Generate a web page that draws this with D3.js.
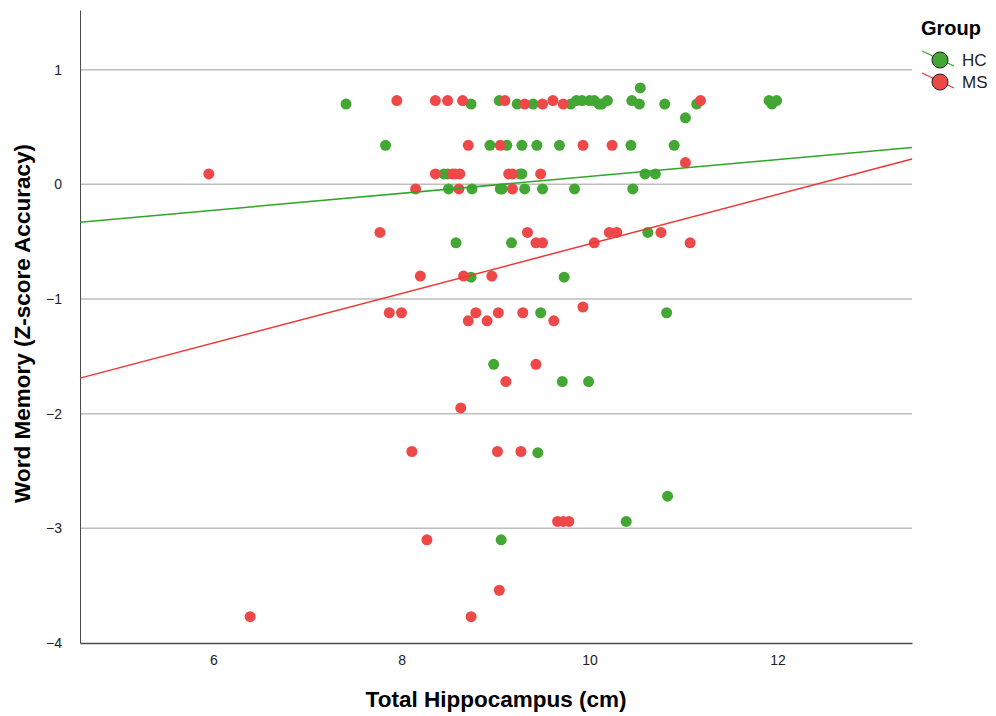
<!DOCTYPE html>
<html>
<head>
<meta charset="utf-8">
<script src="https://cdn.jsdelivr.net/npm/d3@7"></script>
<style>
  body { margin: 0; background: #fff; }
  text { font-family: "Liberation Sans", Arial, sans-serif; }
</style>
</head>
<body>
<div id="graph"></div>
<script>
// values
var hcX = [7.41, 8.74, 9.04, 9.23, 9.40, 9.80, 9.86, 9.92, 10.00, 10.05, 10.10, 10.13, 10.19,
           10.45, 10.54, 10.53, 10.80, 11.14, 11.02, 11.91, 11.94, 11.99,
           7.83, 8.94, 9.12, 9.28, 9.44, 9.68, 10.44, 10.90,
           8.45, 8.49, 9.26, 9.28, 10.59, 10.70,
           8.50, 8.75, 9.05, 9.07, 9.31, 9.50, 9.84, 10.46,
           8.58, 9.17, 10.62, 8.74, 9.73, 9.48, 10.82,
           8.98, 9.71, 9.99, 9.45, 10.83, 10.39, 9.06];
var hcY = [0.70, 0.70, 0.73, 0.70, 0.70, 0.70, 0.73, 0.73, 0.73, 0.73, 0.70, 0.70, 0.73,
           0.73, 0.84, 0.70, 0.70, 0.70, 0.58, 0.73, 0.70, 0.73,
           0.34, 0.34, 0.34, 0.34, 0.34, 0.34, 0.34, 0.34,
           0.09, 0.09, 0.09, 0.09, 0.09, 0.09,
           -0.04, -0.04, -0.04, -0.04, -0.04, -0.04, -0.04, -0.04,
           -0.51, -0.51, -0.42, -0.81, -0.81, -1.12, -1.12,
           -1.57, -1.72, -1.72, -2.34, -2.72, -2.94, -3.10];

var msX = [7.95, 8.36, 8.49, 8.65, 9.10, 9.61, 11.18,
           9.31, 9.50, 9.72,
           8.71, 9.05, 9.93, 10.24,
           11.02,
           5.95, 8.36, 8.54, 8.57, 8.62, 9.14, 9.18, 9.48,
           8.15, 8.61, 9.18,
           7.77, 9.34, 10.21, 10.29, 10.76,
           9.43, 9.50, 10.05, 11.07,
           8.20, 8.66, 8.96,
           9.93,
           7.87, 8.00, 8.79, 9.03, 9.29,
           8.71, 8.91, 9.62,
           9.43, 9.11, 8.63,
           8.11, 9.02, 9.27,
           9.66, 9.72, 9.78,
           8.27, 9.04, 6.39, 8.74];
var msY = [0.73, 0.73, 0.73, 0.73, 0.73, 0.73, 0.73,
           0.70, 0.70, 0.70,
           0.34, 0.34, 0.34, 0.34,
           0.19,
           0.09, 0.09, 0.09, 0.09, 0.09, 0.09, 0.09, 0.09,
           -0.04, -0.04, -0.04,
           -0.42, -0.42, -0.42, -0.42, -0.42,
           -0.51, -0.51, -0.51, -0.51,
           -0.80, -0.80, -0.80,
           -1.07,
           -1.12, -1.12, -1.12, -1.12, -1.12,
           -1.19, -1.19, -1.19,
           -1.57, -1.72, -1.95,
           -2.33, -2.33, -2.33,
           -2.94, -2.94, -2.94,
           -3.10, -3.54, -3.77, -3.77];

// fit lines (end points at the plot edges)
var hcFitX = [4.58, 13.43], hcFitY = [-0.33, 0.32];
var msFitX = [4.58, 13.43], msFitY = [-1.69, 0.22];

var xTicks = [6, 8, 10, 12];
var yTicks = [-4, -3, -2, -1, 0, 1];
var groups = ["HC", "MS"];
var colors = {HC: "#44a634", MS: "#ef4848"};
var lineColors = {HC: "#2fa52a", MS: "#f03535"};

var margin = {top: 10, right: 84, bottom: 73, left: 80},
    width = 996 - margin.left - margin.right,
    height = 716 - margin.top - margin.bottom;

var svg = d3.select("#graph")
  .append("svg")
    .attr("width", 996)
    .attr("height", 716)
  .append("g")
    .attr("transform", "translate(" + margin.left + "," + margin.top + ")");

var x = d3.scaleLinear().domain([4.58, 13.43]).range([0, width]);
var y = d3.scaleLinear().domain([-4, 1.52]).range([height, 0]);

// gridlines
svg.append("g")
  .selectAll("line")
  .data(yTicks.filter(function(d) { return d > -4; }))
  .enter()
  .append("line")
    .attr("x1", 0).attr("x2", width)
    .attr("y1", function(d) { return y(d); })
    .attr("y2", function(d) { return y(d); })
    .style("stroke", "#bdbdbd")
    .style("stroke-width", 1.5);

// axes
var yAxis = svg.append("g")
  .call(d3.axisLeft(y).tickValues(yTicks).tickFormat(d3.format("d")).tickSize(0).tickPadding(18));
yAxis.select(".domain").style("stroke", "#4a4a4a");
yAxis.selectAll("text").style("font-size", "14px").style("fill", "#222");

var xAxis = svg.append("g")
  .attr("transform", "translate(0," + height + ")")
  .call(d3.axisBottom(x).tickValues(xTicks).tickFormat(d3.format("d")).tickSize(0).tickPadding(12));
xAxis.select(".domain").style("stroke", "#4a4a4a").style("stroke-width", 1.5);
xAxis.selectAll("text").style("font-size", "14px").style("fill", "#222");

// axis titles
svg.append("text")
  .attr("transform", "translate(" + (width / 2) + "," + (height + 64) + ")")
  .style("text-anchor", "middle")
  .style("font-weight", "bold")
  .style("font-size", "22.5px")
  .text("Total Hippocampus (cm)");

svg.append("text")
  .attr("transform", "rotate(-90)")
  .attr("x", 0 - (height / 2) + 3)
  .attr("y", 0 - margin.left + 30)
  .style("text-anchor", "middle")
  .style("font-weight", "bold")
  .style("font-size", "22.5px")
  .text("Word Memory (Z-score Accuracy)");

// dots
var hcData = hcX.map(function(v, i) { return {x: v, y: hcY[i]}; });
var msData = msX.map(function(v, i) { return {x: v, y: msY[i]}; });

svg.append("g")
  .selectAll("circle")
  .data(hcData)
  .enter()
  .append("circle")
    .attr("cx", function(d) { return x(d.x); })
    .attr("cy", function(d) { return y(d.y); })
    .attr("r", 5.5)
    .style("fill", colors.HC);

svg.append("g")
  .selectAll("circle")
  .data(msData)
  .enter()
  .append("circle")
    .attr("cx", function(d) { return x(d.x); })
    .attr("cy", function(d) { return y(d.y); })
    .attr("r", 5.5)
    .style("fill", colors.MS);

// fit lines
var line = d3.line()
  .x(function(d) { return x(d[0]); })
  .y(function(d) { return y(d[1]); });

svg.append("path")
  .datum(d3.zip(hcFitX, hcFitY))
  .attr("d", line)
  .style("fill", "none")
  .style("stroke", lineColors.HC)
  .style("stroke-width", 1.5);

svg.append("path")
  .datum(d3.zip(msFitX, msFitY))
  .attr("d", line)
  .style("fill", "none")
  .style("stroke", lineColors.MS)
  .style("stroke-width", 1.5);

// legend
var legend = d3.select("svg").append("g").attr("transform", "translate(921,0)");
legend.append("text")
  .attr("x", 0).attr("y", 35)
  .style("font-weight", "bold")
  .style("font-size", "20px")
  .text("Group");

var item = legend.selectAll(".item")
  .data(groups)
  .enter()
  .append("g")
    .attr("class", "item")
    .attr("transform", function(d, i) { return "translate(0," + (60 + i * 22) + ")"; });

item.append("line")
  .attr("x1", 1).attr("y1", -9)
  .attr("x2", 33).attr("y2", 6)
  .style("stroke", function(d) { return lineColors[d]; })
  .style("stroke-width", 1.2);

item.append("circle")
  .attr("cx", 19).attr("cy", 0)
  .attr("r", 8)
  .style("fill", function(d) { return colors[d]; })
  .style("stroke", "#222")
  .style("stroke-width", 1);

item.append("text")
  .attr("x", 41).attr("y", 6)
  .style("font-size", "17px")
  .style("fill", "#222")
  .text(function(d) { return d; });
</script>
</body>
</html>
